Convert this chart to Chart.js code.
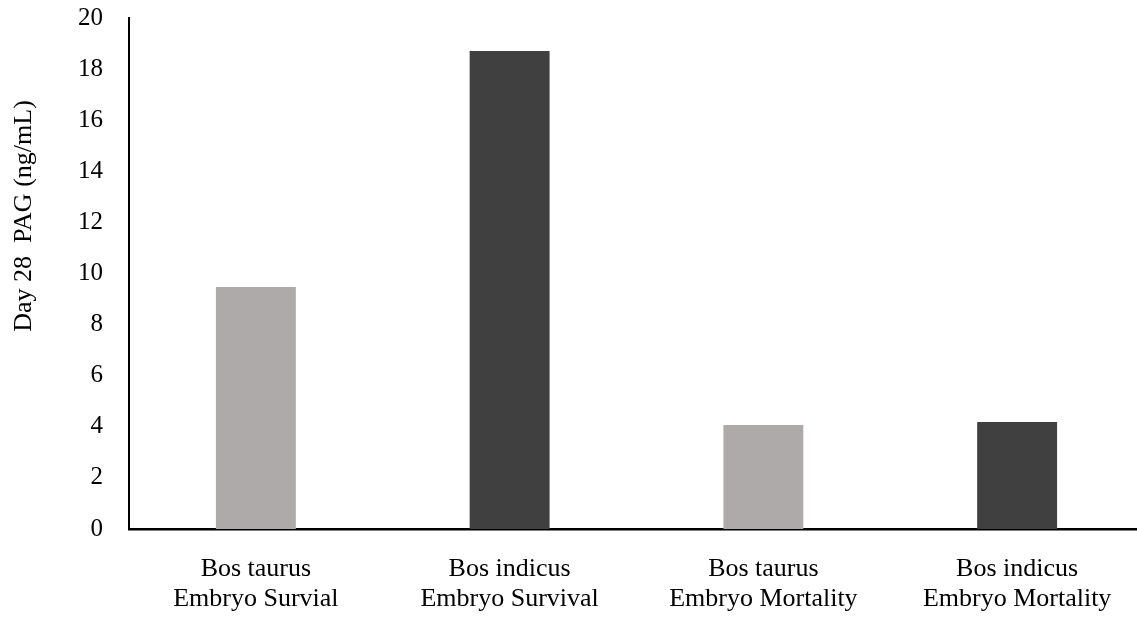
<!DOCTYPE html>
<html>
<head>
<meta charset="utf-8">
<script src="https://cdn.jsdelivr.net/npm/chart.js@4.4.0/dist/chart.umd.min.js"></script>
<style>
  html, body { margin: 0; padding: 0; background: #fff; overflow: hidden; }
  #wrap { width: 1144px; height: 617px; }
</style>
</head>
<body>
<div id="wrap"><canvas id="pagChart" width="1144" height="617"></canvas></div>
<script>
const categories = [
  ["Bos taurus", "Embryo Survial"],
  ["Bos indicus", "Embryo Survival"],
  ["Bos taurus", "Embryo Mortality"],
  ["Bos indicus", "Embryo Mortality"],
];
const pagValues = [9.47, 18.71, 4.07, 4.19];
const barColors = ["#AEAAAA", "#404040", "#AEAAAA", "#404040"];
const yTitle = "Day 28  PAG (ng/mL)";

const serif = "'Liberation Serif', 'Times New Roman', serif";

// y title sits above the middle of the axis in the original, so draw it by hand
const yTitlePlugin = {
  id: "yTitlePlugin",
  afterDraw(chart) {
    const { ctx } = chart;
    ctx.save();
    ctx.font = "26px " + serif;
    ctx.fillStyle = "#000";
    ctx.textAlign = "center";
    ctx.textBaseline = "alphabetic";
    ctx.translate(31, 216);
    ctx.rotate(-Math.PI / 2);
    ctx.fillText(yTitle, 0, 0);
    ctx.restore();
  },
};

new Chart(document.getElementById("pagChart").getContext("2d"), {
  type: "bar",
  data: {
    labels: categories,
    datasets: [
      {
        data: pagValues,
        backgroundColor: barColors,
        borderWidth: 0,
        barPercentage: 0.315,
        categoryPercentage: 1,
      },
    ],
  },
  options: {
    responsive: false,
    animation: false,
    layout: { padding: { top: 18, left: 78, right: 0, bottom: 0 } },
    plugins: {
      legend: { display: false },
      tooltip: { enabled: false },
    },
    scales: {
      x: {
        grid: { display: false, drawTicks: false },
        border: { display: true, color: "#000", width: 2.5 },
        ticks: {
          color: "#000",
          font: { family: serif, size: 26, lineHeight: 1.15 },
          padding: 25,
          maxRotation: 0,
        },
        afterFit(scale) {
          scale.height = 88;
          scale.paddingLeft = 0;
          scale.paddingRight = 0;
        },
      },
      y: {
        min: 0,
        max: 20,
        grid: { display: false, drawTicks: false },
        border: { display: true, color: "#000", width: 2 },
        ticks: {
          stepSize: 2,
          color: "#000",
          font: { family: serif, size: 25 },
          padding: 26,
        },
        afterFit(scale) {
          scale.width = 51;
          scale.paddingTop = 0;
          scale.paddingBottom = 0;
        },
      },
    },
  },
  plugins: [yTitlePlugin],
});
</script>
</body>
</html>
